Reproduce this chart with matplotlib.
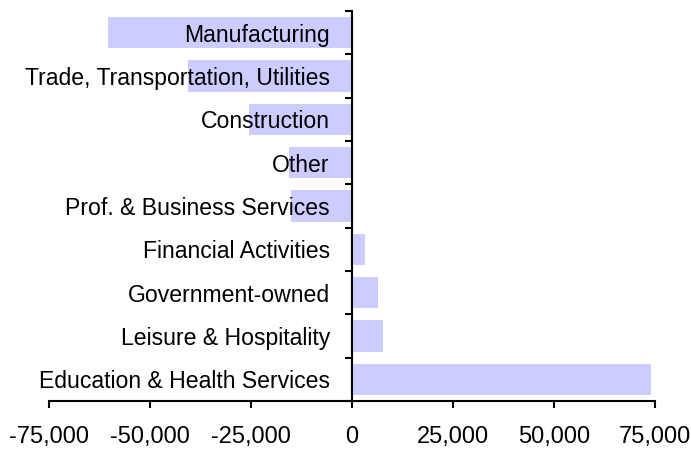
import matplotlib.pyplot as plt
import numpy as np

plt.rcParams['font.family'] = ['Liberation Sans', 'DejaVu Sans']

sectors = ['Education & Health Services', 'Leisure & Hospitality', 'Government-owned',
           'Financial Activities', 'Prof. & Business Services', 'Other',
           'Construction', 'Trade, Transportation, Utilities', 'Manufacturing']
change = [74000, 7600, 6350, 3200, -15200, -15600, -25500, -40700, -60500]
xticks = [-75000, -50000, -25000, 0, 25000, 50000, 75000]

fig = plt.figure(figsize=(6.91, 4.51), dpi=100)
ax = fig.add_axes([49/691, 1 - 401/451, (655 - 49)/691, (401 - 11)/451])

y = np.arange(len(sectors))
ax.barh(y, change, height=0.72, color='#ccccff', zorder=1)

ax.set_xlim(-75000, 75000)
ax.set_ylim(-0.5, len(sectors) - 0.5)

ax.spines['top'].set_visible(False)
ax.spines['right'].set_visible(False)
ax.spines['left'].set_position(('data', 0))
ax.spines['left'].set_linewidth(1.5)
ax.spines['bottom'].set_linewidth(1.5)

ax.set_xticks(xticks)
ax.set_xticklabels(['{:,}'.format(v) for v in xticks])
ax.tick_params(axis='x', direction='out', length=5, width=1.5, pad=13, labelsize=17)

ax.set_yticks(y)
ax.set_yticklabels(sectors)
ax.tick_params(axis='y', which='major', length=0, pad=16, labelsize=16.6)
ax.set_yticks(np.arange(len(sectors) + 1) - 0.5, minor=True)
ax.tick_params(axis='y', which='minor', direction='out', length=5, width=1.5)

for lbl in ax.get_yticklabels():
    lbl.set_zorder(5)
    lbl.set_y(lbl.get_position()[1])

fig.savefig('out.png', dpi=100)
